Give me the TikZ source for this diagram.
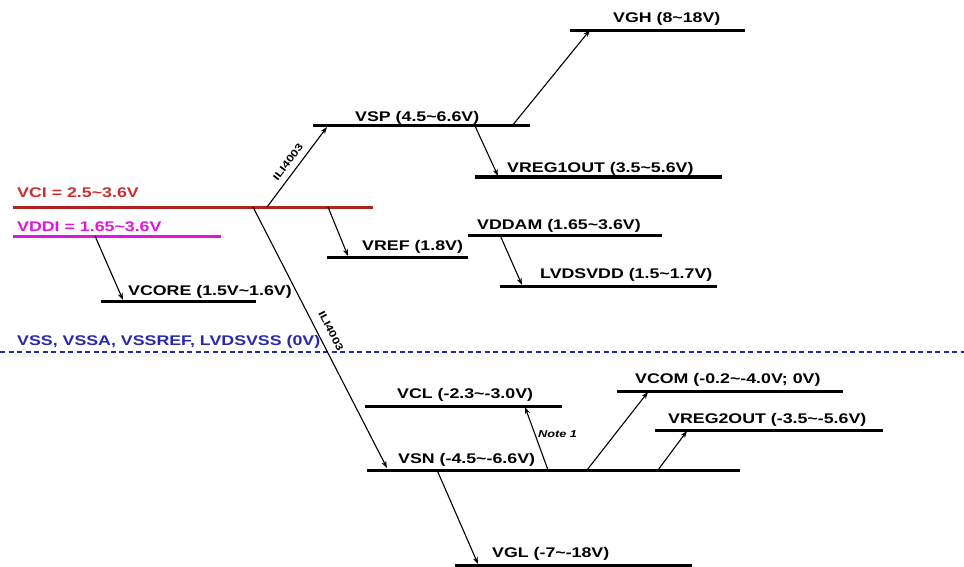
\documentclass[tikz,border=0pt]{standalone}
\usepackage{fontspec}
\setmainfont{Liberation Sans}[FakeStretch=1.27]
\usetikzlibrary{arrows.meta}
\definecolor{vcired}{RGB}{175,35,35}
\definecolor{vcitext}{RGB}{205,45,45}
\definecolor{vddimag}{RGB}{225,20,225}
\definecolor{vssblue}{RGB}{40,40,175}
\tikzset{
  rail/.style={line width=3pt, line cap=butt},
  conn/.style={line width=1.1pt, -{Stealth[length=7pt,width=5pt]}},
  lbl/.style={anchor=base west, inner sep=0pt, font=\fontsize{14}{16}\selectfont\bfseries},
  small/.style={inner sep=0pt, font=\fontsize{10}{11}\selectfont\bfseries},
}
\begin{document}
\begin{tikzpicture}[x=1pt,y=-1pt]
\useasboundingbox (0,0) rectangle (964,567);
% rails
\coordinate (vghL) at (570,31);  \coordinate (vghR) at (745,31);
\coordinate (vspL) at (313,126); \coordinate (vspR) at (530,126);
\coordinate (vr1L) at (475,177); \coordinate (vr1R) at (722,177);
\coordinate (vciL) at (13,207);  \coordinate (vciR) at (373,207);
\coordinate (vddiL) at (13,236); \coordinate (vddiR) at (221,236);
\coordinate (vrefL) at (327,257); \coordinate (vrefR) at (468,257);
\coordinate (vdamL) at (468,235); \coordinate (vdamR) at (662,235);
\coordinate (lvdL) at (500,286); \coordinate (lvdR) at (717,286);
\coordinate (vcoL) at (101,301); \coordinate (vcoR) at (256,301);
\coordinate (vssL) at (0,352); \coordinate (vssR) at (964,352);
\coordinate (vclL) at (365,406); \coordinate (vclR) at (562,406);
\coordinate (vcomL) at (617,391); \coordinate (vcomR) at (843,391);
\coordinate (vr2L) at (655,430); \coordinate (vr2R) at (883,430);
\coordinate (vsnL) at (367,470); \coordinate (vsnR) at (740,470);
\coordinate (vglL) at (455,565); \coordinate (vglR) at (692,565);

\draw[rail] (vghL) -- (vghR);
\draw[rail] (vspL) -- (vspR);
\draw[rail] (vr1L) -- (vr1R);
\draw[rail, vcired] (vciL) -- (vciR);
\draw[rail, vddimag] (vddiL) -- (vddiR);
\draw[rail] (vrefL) -- (vrefR);
\draw[rail] (vdamL) -- (vdamR);
\draw[rail] (lvdL) -- (lvdR);
\draw[rail] (vcoL) -- (vcoR);
\draw[rail, vssblue, line width=2.6pt, dash pattern=on 5pt off 3.5pt] (vssL) -- (vssR);
\draw[rail] (vclL) -- (vclR);
\draw[rail] (vcomL) -- (vcomR);
\draw[rail] (vr2L) -- (vr2R);
\draw[rail] (vsnL) -- (vsnR);
\draw[rail] (vglL) -- (vglR);

% labels
\node[lbl] (tvgh) at (613,23) {VGH (8\textasciitilde18V)};
\node[lbl] (tvsp) at (355,122) {VSP (4.5\textasciitilde6.6V)};
\node[lbl] (tvr1) at (507,172) {VREG1OUT (3.5\textasciitilde5.6V)};
\node[lbl, text=vcitext] (tvci) at (17,197) {VCI = 2.5\textasciitilde3.6V};
\node[lbl, text=vddimag] (tvddi) at (17,231) {VDDI = 1.65\textasciitilde3.6V};
\node[lbl] (tvref) at (362,250) {VREF (1.8V)};
\node[lbl] (tvdam) at (477,229) {VDDAM (1.65\textasciitilde3.6V)};
\node[lbl] (tlvd) at (540,278) {LVDSVDD (1.5\textasciitilde1.7V)};
\node[lbl] (tvco) at (128,295) {VCORE (1.5V\textasciitilde1.6V)};
\node[lbl, text=vssblue] (tvss) at (17,345) {VSS, VSSA, VSSREF, LVDSVSS (0V)};
\node[lbl] (tvcl) at (397,398) {VCL (-2.3\textasciitilde-3.0V)};
\node[lbl] (tvcom) at (635,383) {VCOM (-0.2\textasciitilde-4.0V; 0V)};
\node[lbl] (tvr2) at (668,423) {VREG2OUT (-3.5\textasciitilde-5.6V)};
\node[lbl] (tvsn) at (398,463) {VSN (-4.5\textasciitilde-6.6V)};
\node[lbl] (tvgl) at (492,557) {VGL (-7\textasciitilde-18V)};

% connector end points
\coordinate (a1) at (267,207); \coordinate (b1) at (327,127);
\coordinate (a2) at (253,207); \coordinate (b2) at (387,468);
\coordinate (a3) at (328,207); \coordinate (b3) at (348,256);
\coordinate (a4) at (95,236);  \coordinate (b4) at (123,300);
\coordinate (a5) at (475,126); \coordinate (b5) at (498,176);
\coordinate (a6) at (512,126); \coordinate (b6) at (590,30);
\coordinate (a7) at (500,235); \coordinate (b7) at (522,285);
\coordinate (a8) at (548,470); \coordinate (b8) at (525,407);
\coordinate (a9) at (587,470); \coordinate (b9) at (648,392);
\coordinate (a10) at (658,470); \coordinate (b10) at (687,431);
\coordinate (a11) at (437,470); \coordinate (b11) at (478,564);

\draw[conn] (a1) -- (b1);
\draw[conn] (a2) -- (b2);
\draw[conn] (a3) -- (b3);
\draw[conn] (a4) -- (b4);
\draw[conn] (a5) -- (b5);
\draw[conn] (a6) -- (b6);
\draw[conn] (a7) -- (b7);
\draw[conn] (a8) -- (b8);
\draw[conn] (a9) -- (b9);
\draw[conn] (a10) -- (b10);
\draw[conn] (a11) -- (b11);

\node[small, rotate=53] (ili1) at (288,162) {ILI4003};
\node[small, rotate=-63] (ili2) at (331,331) {ILI4003};
\node[small, anchor=base west, font=\fontsize{10}{11}\selectfont\bfseries\itshape] (note) at (538,437) {Note 1};
\end{tikzpicture}
\end{document}
